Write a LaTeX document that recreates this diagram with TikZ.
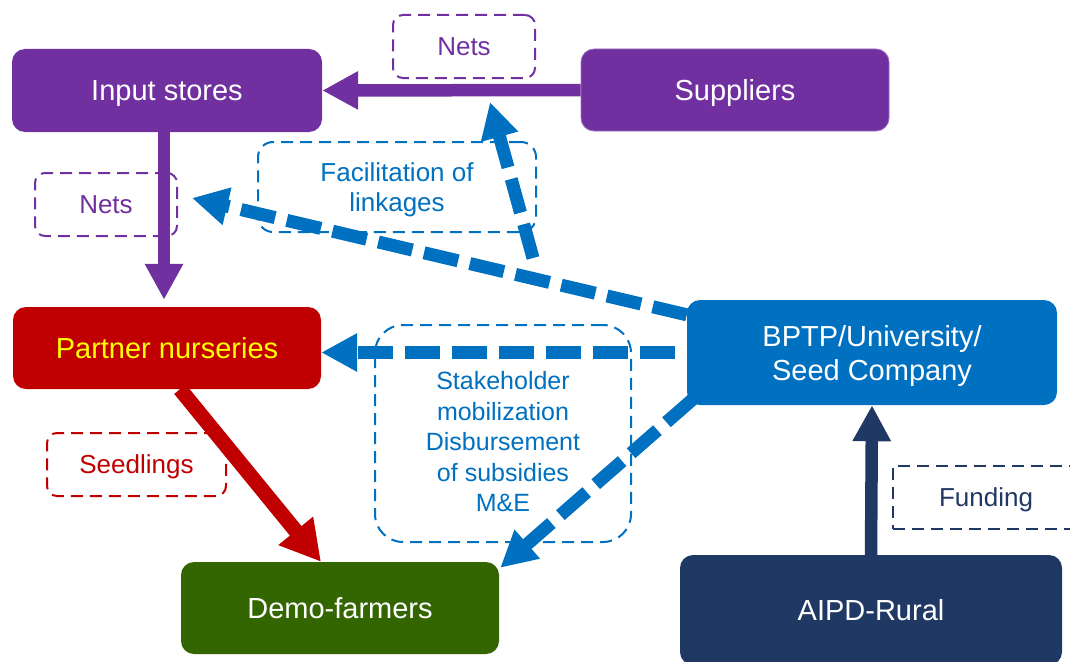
\documentclass[tikz,border=0pt]{standalone}
\usepackage{fontspec}
\setmainfont{Liberation Sans}
\usetikzlibrary{arrows.meta}
\definecolor{cPurple}{HTML}{7030A0}
\definecolor{cRed}{HTML}{C00000}
\definecolor{cYellow}{HTML}{FFFF00}
\definecolor{cBlue}{HTML}{0070C0}
\definecolor{cGreen}{HTML}{336600}
\definecolor{cNavy}{HTML}{203864}
\begin{document}
\begin{tikzpicture}[x=1pt,y=-1pt,
  mainbox/.style={rounded corners=13pt, inner sep=0pt, align=center, text=white,
    text depth=0pt, font=\fontsize{29}{34}\selectfont},
  tagbox/.style={draw, line width=2pt, dash pattern=on 12pt off 7pt, inner sep=0pt,
    rounded corners=10pt, align=center, text depth=0pt, font=\fontsize{26}{30.5}\selectfont},
  block/.style={line width=12.5pt, -{Triangle[width=36pt,length=36pt]}},
  dashblock/.style={block, cBlue, line width=13pt, dash pattern=on 35pt off 12pt}]
\useasboundingbox (0,0) rectangle (1070,661);
\clip (0,0) rectangle (1070,661);

% dashed label boxes
\node[tagbox, cPurple, minimum width=142pt, minimum height=63pt] (netsT) at (464,46.5) {Nets};
\node[tagbox, cPurple, minimum width=142pt, minimum height=63pt] (netsL) at (106,204.5) {Nets};
\node[tagbox, cBlue, rounded corners=15pt, minimum width=278pt, minimum height=90pt] (facil) at (397,187) {Facilitation of\\linkages};
\node[tagbox, cBlue, rounded corners=28pt, minimum width=256pt, minimum height=217pt] (stakebox) at (503,433.5) {};
\node[align=center, text=cBlue, font=\fontsize{25}{30.5}\selectfont] (stake) at (503,442)
  {Stakeholder\\mobilization\\Disbursement\\of subsidies\\M\&E};
\node[tagbox, cRed, minimum width=179pt, minimum height=63pt] (seed) at (136.5,464.5) {Seedlings};
\node[tagbox, cNavy, rounded corners=0pt, minimum width=186pt, minimum height=63pt] (fund) at (986,497.5) {Funding};

% actors
\node[mainbox, fill=cPurple, minimum width=310pt, minimum height=83pt] (input) at (167,90.5) {Input stores};
\node[mainbox, fill=cPurple, draw=cPurple!70!white, line width=0.8pt, minimum width=308pt, minimum height=82pt] (supp) at (735,90) {Suppliers};
\node[mainbox, fill=cRed, text=cYellow, minimum width=308pt, minimum height=82pt] (nurs) at (167,348) {Partner nurseries};
\node[mainbox, fill=cBlue, minimum width=370pt, minimum height=105pt] (bptp) at (872,352.5) {BPTP/University/\\Seed Company};
\node[mainbox, fill=cGreen, minimum width=318pt, minimum height=92pt] (demo) at (340,608) {Demo-farmers};
\node[mainbox, fill=cNavy, minimum width=382pt, minimum height=110pt] (aipd) at (871,610) {AIPD-Rural};

% flows
\draw[block, cPurple] (supp.west) -- (input.east);
\draw[block, cPurple] ([xshift=-3pt]input.south) -- ([xshift=-3pt,yshift=7pt]nurs.north);
\draw[cRed, line width=15pt, -{Triangle[width=42pt,length=40pt]}] ([xshift=13pt]nurs.south) -- ([xshift=-19pt]demo.north);
\draw[block, cNavy] (aipd.north) -- (bptp.south);

\coordinate (fork) at (533,258);
\coordinate (upend) at (490,102);
\draw[dashblock] ([yshift=-15pt]bptp.north west) -- ([xshift=14pt,yshift=6.5pt]netsL.east);
\draw[dashblock] (fork) -- (upend);
\draw[dashblock] ([xshift=-12pt]bptp.west) -- (bptp.west -| nurs.east);
\draw[dashblock] ([shift={(6pt,6pt)}]bptp.south west) -- ([xshift=1pt,yshift=-6pt]demo.north east);
\end{tikzpicture}
\end{document}
